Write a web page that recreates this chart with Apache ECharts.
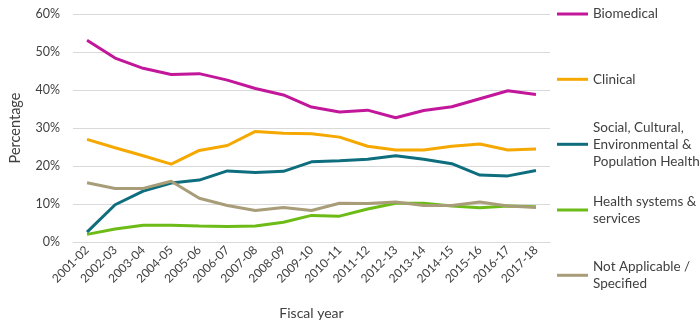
<!DOCTYPE html>
<html><head><meta charset="utf-8">
<script src="https://cdn.jsdelivr.net/npm/echarts@6/dist/echarts.min.js"></script>
<style>html,body{margin:0;padding:0;background:#fff}#c{width:700px;height:325px}</style>
</head><body><div id="c"></div>
<script>
const categories = ['2001-02','2002-03','2003-04','2004-05','2005-06','2006-07','2007-08','2008-09','2009-10','2010-11','2011-12','2012-13','2013-14','2014-15','2015-16','2016-17','2017-18'];
const biomedical = [53.1,48.4,45.7,44.1,44.3,42.6,40.4,38.7,35.5,34.2,34.7,32.7,34.6,35.6,37.7,39.8,38.8];
const clinical = [27.0,24.8,22.7,20.5,24.1,25.4,29.1,28.6,28.5,27.6,25.2,24.2,24.2,25.2,25.8,24.2,24.5];
const social = [2.6,9.8,13.4,15.5,16.3,18.7,18.3,18.6,21.1,21.4,21.8,22.7,21.8,20.6,17.6,17.4,18.8];
const healthSystems = [2.0,3.4,4.4,4.4,4.2,4.1,4.2,5.2,7.0,6.8,8.7,10.2,10.2,9.5,9.0,9.5,9.3];
const notApplicable = [15.6,14.1,14.1,16.0,11.5,9.6,8.3,9.1,8.3,10.2,10.1,10.5,9.6,9.6,10.5,9.5,9.1];
const seriesNames = ['Biomedical','Clinical','Social, Cultural,\nEnvironmental &\nPopulation Health','Health systems &\nservices','Not Applicable /\nSpecified'];
const seriesData = [biomedical, clinical, social, healthSystems, notApplicable];
const colors = ['#C2179A','#F5A800','#0E6E7E','#6DBB17','#A89D78'];
const legendTops = [5.5, 70.8, 101.8, 184.5, 249.8];

const font = 'Lato';
const lh = 17;
const chart = echarts.init(document.getElementById('c'));
const legends = seriesNames.map((n, i) => {
  const lines = n.split('\n').length;
  return {
    data: [n], left: 557, top: legendTops[i], padding: 0,
    icon: 'rect', itemWidth: 31, itemHeight: 3, selectedMode: false,
    textStyle: {fontFamily: font, fontSize: 13.5, color: '#404040', lineHeight: lh,
      padding: [lh * (lines - 1), 0, 0, 0]}
  };
});
chart.setOption({
  animation: false,
  color: colors,
  grid: {left: 70, right: 150, top: 14, bottom: 80},
  legend: legends,
  xAxis: {
    type: 'category', data: categories, boundaryGap: true,
    name: 'Fiscal year', nameLocation: 'middle', nameGap: 64,
    nameTextStyle: {fontFamily: font, fontSize: 14, color: '#404040'},
    axisLine: {show: true, lineStyle: {color: '#d9d9d9'}},
    axisTick: {show: false},
    axisLabel: {rotate: 45, margin: 6, fontFamily: font, fontSize: 12, color: '#404040', interval: 0}
  },
  yAxis: {
    type: 'value', min: 0, max: 60, interval: 10,
    name: 'Percentage', nameLocation: 'middle', nameGap: 50,
    nameTextStyle: {fontFamily: font, fontSize: 14.5, color: '#404040'},
    axisLabel: {formatter: '{value}%', margin: 13, fontFamily: font, fontSize: 12.5, color: '#404040'},
    splitLine: {lineStyle: {color: '#d9d9d9', width: 1}},
    axisLine: {show: false}, axisTick: {show: false}
  },
  series: seriesNames.map((n, i) => ({
    name: n, type: 'line', data: seriesData[i], symbol: 'none',
    lineStyle: {width: 3, color: colors[i]}, itemStyle: {color: colors[i]}
  }))
});
</script></body></html>
